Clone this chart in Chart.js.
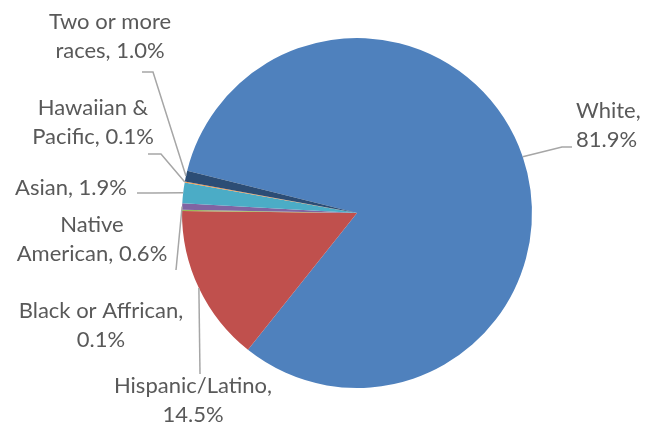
<!DOCTYPE html>
<html>
<head>
<meta charset="utf-8">
<script src="https://cdn.jsdelivr.net/npm/chart.js@4/dist/chart.umd.min.js"></script>
<style>
  html, body { margin: 0; padding: 0; background: #fff; }
</style>
</head>
<body>
<canvas id="pie" width="654" height="426"></canvas>
<script>
// data
const categories = ['White', 'Hispanic/Latino', 'Black or Affrican', 'Native American', 'Asian', 'Hawaiian & Pacific', 'Two or more races'];
const shares = [81.9, 14.5, 0.1, 0.6, 1.9, 0.1, 1.0];
const sliceColors = ['#4F81BD', '#C0504D', '#9BBB59', '#8064A2', '#4BACC6', '#F79646', '#2C4D75'];

// where each data label sits, how many words go on its first line,
// and the bend points of its leader line (from the slice outwards)
const labelLayout = [
    { x: 576, y: 118, align: 'left',   words: 1, leader: [[562, 147], [572, 147]] },
    { x: 193, y: 393, align: 'center', words: 1, leader: [[200, 374]] },
    { x: 101, y: 318, align: 'center', words: 3, leader: [] },
    { x: 92,  y: 232, align: 'center', words: 1, leader: [[176, 270]] },
    { x: 71,  y: 195, align: 'center', words: 2, leader: [[153, 193], [137, 193]] },
    { x: 93,  y: 115, align: 'center', words: 2, leader: [[161, 154], [148, 154]] },
    { x: 110, y: 29,  align: 'center', words: 3, leader: [[153, 72], [142, 72]] }
];

function labelText(i) {
    const words = (categories[i] + ', ' + shares[i].toFixed(1) + '%').split(' ');
    const n = labelLayout[i].words;
    const first = words.slice(0, n).join(' ');
    const rest = words.slice(n).join(' ');
    return rest ? [first, rest] : [first];
}

const pieLabels = {
    id: 'pieLabels',
    afterDraw(chart) {
        const ctx = chart.ctx;
        const arcs = chart.getDatasetMeta(0).data;
        ctx.save();
        // leader lines
        ctx.strokeStyle = '#A6A6A6';
        ctx.lineWidth = 1.5;
        arcs.forEach((arc, i) => {
            const pts = labelLayout[i].leader;
            if (!pts.length) return;
            const p = arc.getProps(['x', 'y', 'startAngle', 'endAngle', 'outerRadius'], true);
            const mid = (p.startAngle + p.endAngle) / 2;
            ctx.beginPath();
            ctx.moveTo(p.x + Math.cos(mid) * p.outerRadius, p.y + Math.sin(mid) * p.outerRadius);
            pts.forEach(pt => ctx.lineTo(pt[0], pt[1]));
            ctx.stroke();
        });
        // texts
        ctx.fillStyle = '#595959';
        ctx.font = '22px Lato';
        ctx.textBaseline = 'alphabetic';
        labelLayout.forEach((lay, i) => {
            ctx.textAlign = lay.align;
            labelText(i).forEach((line, k) => {
                ctx.fillText(line, lay.x, lay.y + k * 29);
            });
        });
        ctx.restore();
    }
};

new Chart(document.getElementById('pie'), {
    type: 'pie',
    data: {
        labels: categories,
        datasets: [{
            data: shares,
            backgroundColor: sliceColors,
            borderWidth: 0
        }]
    },
    options: {
        responsive: false,
        animation: false,
        rotation: 284,
        layout: { padding: { left: 182, right: 122, top: 38, bottom: 38 } },
        plugins: {
            legend: { display: false },
            tooltip: { enabled: false }
        }
    },
    plugins: [pieLabels]
});
</script>
</body>
</html>
